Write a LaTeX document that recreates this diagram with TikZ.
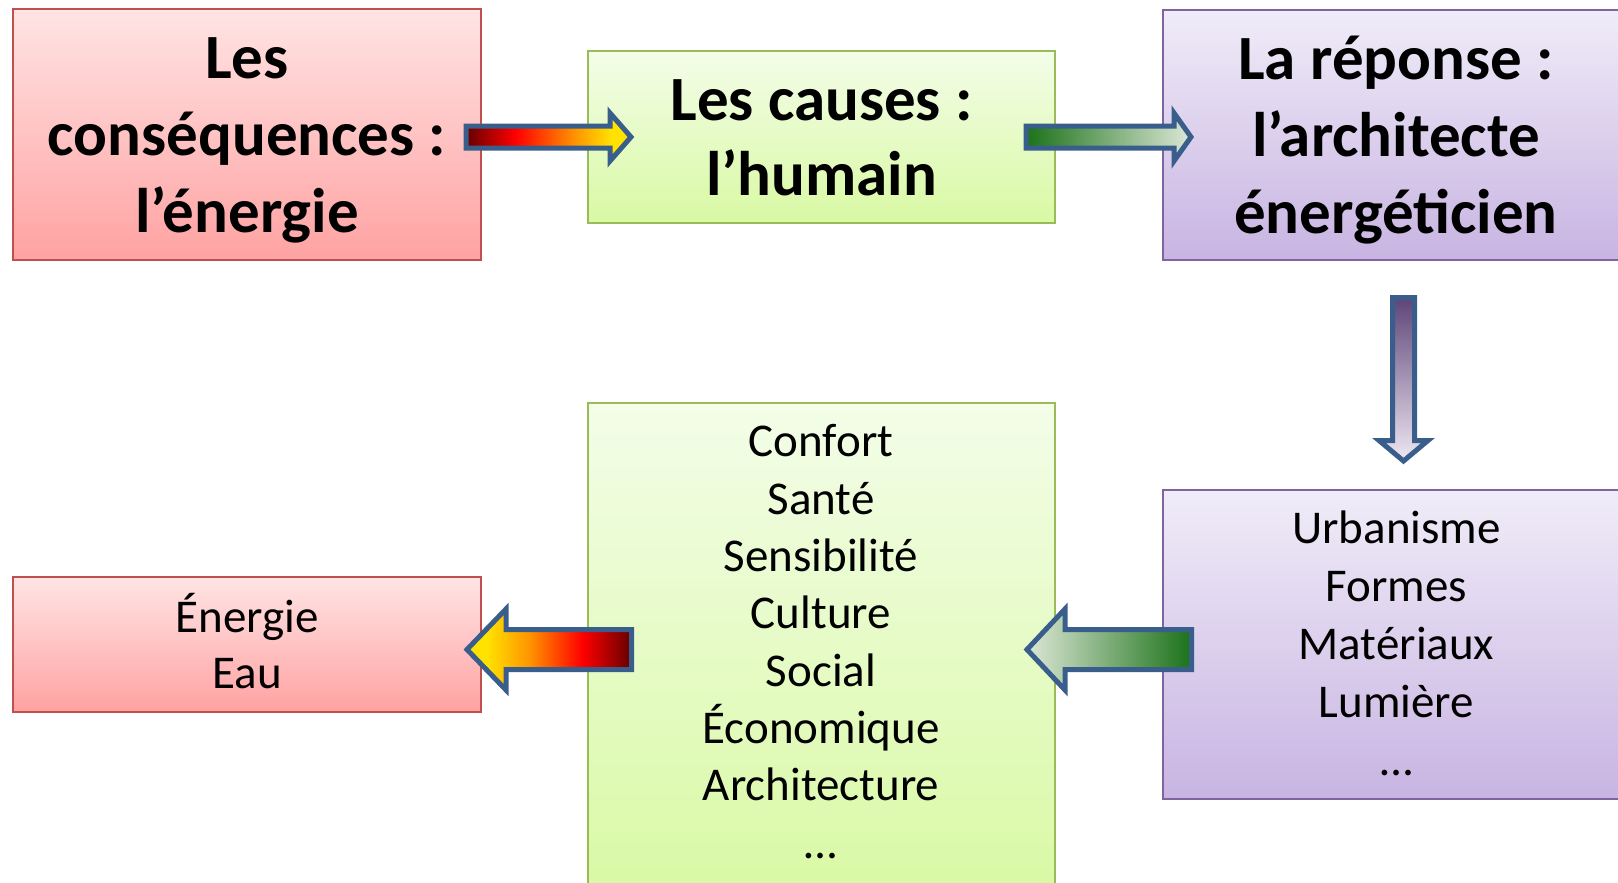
\documentclass[tikz,border=0pt]{standalone}
\usepackage{fontspec}
\setmainfont{Carlito}
\definecolor{redtop}{HTML}{FFE4E4}
\definecolor{redbot}{HTML}{FFA2A2}
\definecolor{redline}{HTML}{C0504D}
\definecolor{greentop}{HTML}{F3FDE8}
\definecolor{greenbot}{HTML}{D9F9A4}
\definecolor{greenline}{HTML}{9BBB59}
\definecolor{purptop}{HTML}{F0ECF8}
\definecolor{purpbot}{HTML}{C8B4E2}
\definecolor{purpline}{HTML}{8064A2}
\definecolor{arrline}{HTML}{3A5E8C}
\definecolor{fdark}{HTML}{650000}
\definecolor{fred}{HTML}{FF0000}
\definecolor{forange}{HTML}{FF9400}
\definecolor{fyellow}{HTML}{FFE200}
\definecolor{gdark}{HTML}{1B7219}
\definecolor{gmid}{HTML}{9CB96A}
\definecolor{glight}{HTML}{DDE7D6}
\definecolor{pdark}{HTML}{5E4578}
\definecolor{plight}{HTML}{EEE8F2}
\pgfdeclarehorizontalshading{fireright}{100bp}{color(0bp)=(fdark); color(25bp)=(fdark); color(40bp)=(fred); color(58bp)=(forange); color(69bp)=(fyellow); color(100bp)=(fyellow)}
\pgfdeclarehorizontalshading{fireleft}{100bp}{color(0bp)=(fyellow); color(31bp)=(fyellow); color(44bp)=(forange); color(60bp)=(fred); color(75bp)=(fdark); color(100bp)=(fdark)}
\begin{document}
\begin{tikzpicture}[x=1pt,y=-1pt,
  box/.style={rectangle, inner sep=0pt, line width=2pt},
  redbox/.style={box, draw=redline, top color=redtop, bottom color=redbot},
  greenbox/.style={box, draw=greenline, top color=greentop, bottom color=greenbot},
  purpbox/.style={box, draw=purpline, top color=purptop, bottom color=purpbot},
  bigtext/.style={anchor=base, inner sep=0pt, align=center, font=\fontsize{63}{77}\selectfont\bfseries},
  smalltext/.style={anchor=base, inner sep=0pt, align=center, font=\fontsize{47}{57.3}\selectfont},
  blockarrow/.style={draw=arrline, line width=5pt, line join=miter}
]
\useasboundingbox (0,0) rectangle (1618,883);
% boxes
\node[redbox, minimum width=468pt, minimum height=251pt] (b1) at (247,134.5) {};
\node[greenbox, minimum width=467pt, minimum height=172pt] (b2) at (821.5,137) {};
\node[purpbox, minimum width=468pt, minimum height=250pt] (b3) at (1397,135) {};
\node[redbox, minimum width=468pt, minimum height=135pt] (b4) at (247,644.5) {};
\node[greenbox, minimum width=467pt, minimum height=495pt] (b5) at (821.5,650.5) {};
\node[purpbox, minimum width=468pt, minimum height=309pt] (b6) at (1397,644.5) {};
% block arrows
\path[blockarrow, shading=fireright] (466,126) -- (610,126) -- (610,113) -- (631,137) -- (610,161) -- (610,148) -- (466,148) -- cycle;
\path[blockarrow, left color=gdark, middle color=gmid, right color=glight] (1026,126) -- (1174,126) -- (1174,113) -- (1191,137) -- (1174,161) -- (1174,148) -- (1026,148) -- cycle;
\path[blockarrow, top color=pdark, bottom color=plight] (1392.5,297.5) -- (1414.5,297.5) -- (1414.5,440.5) -- (1428,440.5) -- (1403.5,461) -- (1379,440.5) -- (1392.5,440.5) -- cycle;
\path[blockarrow, shading=fireleft] (631.5,629.5) -- (506,629.5) -- (506,609) -- (467,649.5) -- (506,690) -- (506,669.5) -- (631.5,669.5) -- cycle;
\path[blockarrow, left color=glight, middle color=gmid, right color=gdark] (1191.5,629.5) -- (1065,629.5) -- (1065,609) -- (1027,649.5) -- (1065,690) -- (1065,669.5) -- (1191.5,669.5) -- cycle;
% texts (anchor base = last line baseline)
\node[bigtext] (t1) at (247,232) {Les\\conséquences :\\l’énergie};
\node[bigtext, font=\fontsize{63}{75}\selectfont\bfseries] (t2) at (821.5,195) {Les causes :\\l’humain};
\node[bigtext] (t3) at (1396,233) {La réponse :\\l’architecte\\énergéticien};
\node[smalltext, font=\fontsize{47}{56}\selectfont] (t4) at (247,688) {Énergie\\Eau};
\node[smalltext] (t5) at (821,858) {Confort\\Santé\\Sensibilité\\Culture\\Social\\Économique\\Architecture\\…};
\node[smalltext, font=\fontsize{47}{58}\selectfont] (t6) at (1396.5,775) {Urbanisme\\Formes\\Matériaux\\Lumière\\…};
\end{tikzpicture}
\end{document}
